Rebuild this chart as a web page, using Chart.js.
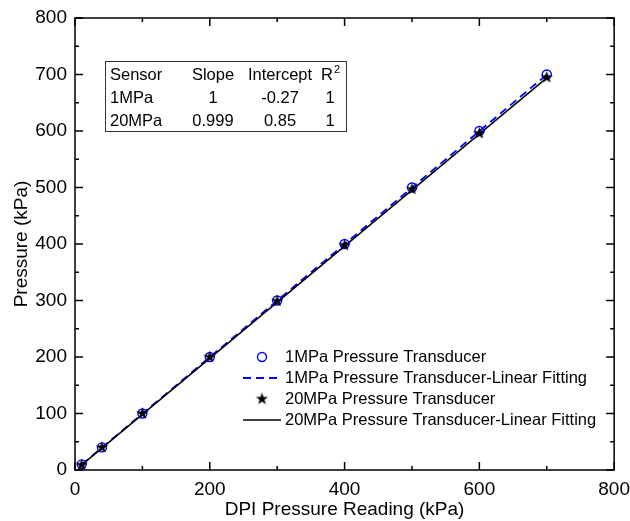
<!DOCTYPE html>
<html>
<head>
<meta charset="utf-8">
<script src="https://cdn.jsdelivr.net/npm/chart.js@4"></script>
<style>
  body { margin: 0; background: #fff; }
  canvas { display: block; }
</style>
</head>
<body>
<canvas id="chart" width="630" height="521"></canvas>
<script>
// data
const dpiReading = [10, 40, 100, 200, 300, 400, 500, 600, 700];
const p1MPa = [10, 40, 100, 200, 300, 400, 500, 600, 700];
const p20MPa = [9, 40, 100, 200, 299, 398, 497, 596, 695];
const fitX = [10, 700];
const fit1MPa = [9.7, 699.7];
const fit20MPa = [9, 694];

const seriesLabels = [
  "1MPa Pressure Transducer",
  "1MPa Pressure Transducer-Linear Fitting",
  "20MPa Pressure Transducer",
  "20MPa Pressure Transducer-Linear Fitting"
];

const tableHead = ["Sensor", "Slope", "Intercept", "R"];
const tableRows = [
  ["1MPa", "1", "-0.27", "1"],
  ["20MPa", "0.999", "0.85", "1"]
];

const FONT = "'Liberation Sans', Arial, sans-serif";
const BLUE = "#0000ff";

function pts(xs, ys) {
  return xs.map((x, i) => ({ x: x, y: ys[i] }));
}

// filled five point star for the 20MPa markers
function makeStar(r) {
  const c = document.createElement("canvas");
  const s = Math.ceil(r * 2 + 2);
  c.width = s; c.height = s;
  const g = c.getContext("2d");
  g.fillStyle = "#000";
  g.beginPath();
  for (let i = 0; i < 10; i++) {
    const rad = i % 2 === 0 ? r : r * 0.4;
    const a = -Math.PI / 2 + i * Math.PI / 5;
    const px = s / 2 + rad * Math.cos(a);
    const py = s / 2 + rad * Math.sin(a);
    if (i === 0) g.moveTo(px, py); else g.lineTo(px, py);
  }
  g.closePath();
  g.fill();
  return c;
}
const star = makeStar(6.5);

// ticks pointing inwards on all four sides + frame
const frameTicks = {
  id: "frameTicks",
  afterDraw(chart) {
    const ctx = chart.ctx;
    const a = chart.chartArea;
    const xs = chart.scales.x, ys = chart.scales.y;
    ctx.save();
    ctx.strokeStyle = "#000";
    ctx.lineWidth = 1.5;
    for (let v = 0; v <= 800; v += 100) {
      const len = v % 200 === 0 ? 8 : 4;
      const px = xs.getPixelForValue(v);
      ctx.beginPath();
      ctx.moveTo(px, a.bottom); ctx.lineTo(px, a.bottom - len);
      ctx.moveTo(px, a.top); ctx.lineTo(px, a.top + len);
      ctx.stroke();
    }
    for (let v = 0; v <= 800; v += 50) {
      const len = v % 100 === 0 ? 8 : 4;
      const py = ys.getPixelForValue(v);
      ctx.beginPath();
      ctx.moveTo(a.left, py); ctx.lineTo(a.left + len, py);
      ctx.moveTo(a.right, py); ctx.lineTo(a.right - len, py);
      ctx.stroke();
    }
    ctx.strokeRect(a.left, a.top, a.right - a.left, a.bottom - a.top);
    ctx.restore();
  }
};

// legend in the lower right and the fit table in the upper left
const notes = {
  id: "notes",
  afterDraw(chart) {
    const ctx = chart.ctx;
    ctx.save();
    ctx.font = "16.5px " + FONT;
    ctx.fillStyle = "#000";
    ctx.textBaseline = "middle";
    ctx.textAlign = "left";

    const rows = [357, 378, 399, 420];
    const tx = 285, mx = 262;
    // 1MPa marker
    ctx.strokeStyle = BLUE; ctx.lineWidth = 1.4;
    ctx.beginPath(); ctx.arc(mx, rows[0], 4.5, 0, Math.PI * 2); ctx.stroke();
    // 1MPa fit
    ctx.lineWidth = 1.8; ctx.setLineDash([8, 5]);
    ctx.beginPath(); ctx.moveTo(243, rows[1]); ctx.lineTo(281, rows[1]); ctx.stroke();
    ctx.setLineDash([]);
    // 20MPa marker
    ctx.drawImage(star, mx - star.width / 2, rows[2] - star.height / 2);
    // 20MPa fit
    ctx.strokeStyle = "#000"; ctx.lineWidth = 1.5;
    ctx.beginPath(); ctx.moveTo(243, rows[3]); ctx.lineTo(281, rows[3]); ctx.stroke();
    seriesLabels.forEach((t, i) => ctx.fillText(t, tx, rows[i]));

    // table
    ctx.strokeStyle = "#333"; ctx.lineWidth = 1;
    ctx.strokeRect(105.5, 61.5, 241, 70);
    const colX = [110, 213, 280, 330];
    const rowY = [75, 98, 121];
    ctx.textAlign = "left";
    ctx.fillText(tableHead[0], colX[0], rowY[0]);
    ctx.textAlign = "center";
    ctx.fillText(tableHead[1], colX[1], rowY[0]);
    ctx.fillText(tableHead[2], colX[2], rowY[0]);
    ctx.fillText(tableHead[3], colX[3] - 3, rowY[0]);
    ctx.font = "11px " + FONT;
    ctx.fillText("2", colX[3] + 7, rowY[0] - 5);
    ctx.font = "16.5px " + FONT;
    tableRows.forEach((r, j) => {
      ctx.textAlign = "left";
      ctx.fillText(r[0], colX[0], rowY[j + 1]);
      ctx.textAlign = "center";
      for (let k = 1; k < 4; k++) ctx.fillText(r[k], colX[k], rowY[j + 1]);
    });
    ctx.restore();
  }
};

new Chart(document.getElementById("chart"), {
  type: "scatter",
  data: {
    datasets: [
      {
        label: seriesLabels[0],
        data: pts(dpiReading, p1MPa),
        pointStyle: "circle",
        pointRadius: 4.5,
        pointBorderColor: BLUE,
        pointBackgroundColor: "rgba(0,0,0,0)",
        pointBorderWidth: 1.4,
        showLine: false,
        order: 1
      },
      {
        label: seriesLabels[1],
        data: pts(fitX, fit1MPa),
        showLine: true,
        borderColor: BLUE,
        borderWidth: 1.8,
        borderDash: [8, 5],
        pointRadius: 0,
        order: 3
      },
      {
        label: seriesLabels[2],
        data: pts(dpiReading, p20MPa),
        pointStyle: star,
        showLine: false,
        order: 0
      },
      {
        label: seriesLabels[3],
        data: pts(fitX, fit20MPa),
        showLine: true,
        borderColor: "#000",
        borderWidth: 1.5,
        pointRadius: 0,
        order: 2
      }
    ]
  },
  options: {
    responsive: false,
    animation: false,
    devicePixelRatio: 1,
    layout: { padding: { top: 18, right: 0, left: 0, bottom: 0 } },
    plugins: {
      legend: { display: false },
      tooltip: { enabled: false }
    },
    scales: {
      x: {
        type: "linear",
        min: 0, max: 800,
        grid: { display: false },
        border: { display: false },
        ticks: { stepSize: 200, color: "#000", font: { family: FONT, size: 19 }, padding: 0, maxRotation: 0 },
        title: { display: true, text: "DPI Pressure Reading (kPa)", color: "#000", font: { family: FONT, size: 19 }, padding: { top: 1, bottom: 0 } },
        afterFit(s) { s.height = 51; }
      },
      y: {
        type: "linear",
        min: 0, max: 800,
        grid: { display: false },
        border: { display: false },
        ticks: { stepSize: 100, color: "#000", font: { family: FONT, size: 19 }, padding: 0 },
        title: { display: true, text: "Pressure (kPa)", color: "#000", font: { family: FONT, size: 19 }, padding: { top: 10, bottom: 0 } },
        afterFit(s) { s.width = 75; }
      }
    }
  },
  plugins: [frameTicks, notes]
});
</script>
</body>
</html>
